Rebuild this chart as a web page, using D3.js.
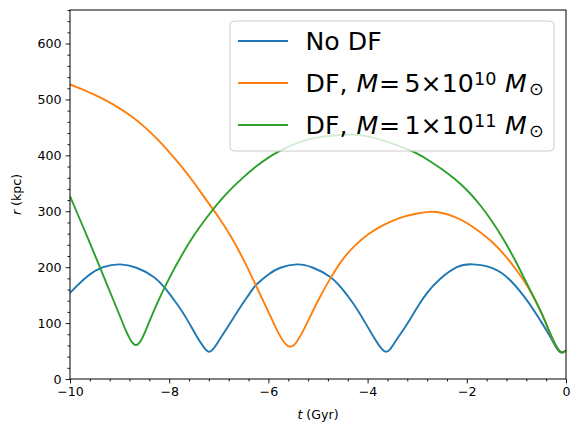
<!DOCTYPE html>
<html>
<head>
<meta charset="utf-8">
<script src="https://cdn.jsdelivr.net/npm/d3@7"></script>
<style>
  body { margin: 0; background: #fff; }
  text { font-family: "DejaVu Sans", sans-serif; }
</style>
</head>
<body>
<script>
// Data (t in Gyr, r in kpc)
const tBlue = [-10, -9.66, -9.33, -8.99, -8.66, -8.32, -8.08, -7.85, -7.65, -7.45, -7.31, -7.21, -7.11, -6.98, -6.77, -6.57, -6.37, -6.24, -6.0, -5.76, -5.43, -5.10, -4.76, -4.52, -4.29, -4.09, -3.89, -3.75, -3.64, -3.54, -3.41, -3.20, -3.00, -2.80, -2.55, -2.20, -1.87, -1.47, -1.13, -0.79, -0.52, -0.32, -0.19, -0.09, 0];
const rBlue = [154, 183, 200, 205, 199, 183, 162, 135, 108, 77, 58, 49, 54, 71, 100, 128, 154, 169, 187, 199, 205, 199, 183, 162, 135, 107, 77, 58, 49, 54, 71, 99, 128, 154, 178, 200, 205, 198, 177, 141, 105, 76, 55, 47, 51];

const tOrange = [-10, -9.75, -9.5, -9.25, -9, -8.75, -8.5, -8.25, -8, -7.75, -7.5, -7.25, -7, -6.75, -6.5, -6.25, -6, -5.9, -5.8, -5.7, -5.62, -5.57, -5.52, -5.45, -5.35, -5.25, -5, -4.75, -4.5, -4.25, -4, -3.75, -3.5, -3.25, -3, -2.75, -2.5, -2.25, -2, -1.75, -1.5, -1.25, -1, -0.75, -0.5, -0.32, -0.19, -0.09, 0];
const rOrange = [527, 518, 508, 497, 484, 469, 451, 430, 406, 380, 351, 320, 289, 254, 213, 167, 120, 101, 83, 68, 60, 58, 59, 64, 78, 95, 140, 180, 214, 239, 258, 272, 283, 291, 296, 299, 297, 290, 279, 264, 246, 223, 195, 162, 119, 81, 57, 48, 51];

const tGreen = [-10, -9.75, -9.5, -9.25, -9, -8.9, -8.8, -8.75, -8.69, -8.62, -8.55, -8.45, -8.25, -8, -7.75, -7.5, -7.25, -7, -6.75, -6.5, -6.25, -6, -5.75, -5.5, -5.25, -5, -4.75, -4.5, -4.25, -4, -3.75, -3.5, -3.25, -3, -2.75, -2.5, -2.25, -2, -1.75, -1.5, -1.25, -1, -0.75, -0.5, -0.32, -0.19, -0.09, 0];
const rGreen = [327, 275, 222, 168, 114, 92, 73, 66, 61, 63, 72, 92, 134, 180, 221, 257, 288, 316, 340, 361, 380, 396, 409, 419, 427, 432, 435, 437, 437, 434, 428, 421, 413, 403, 390, 375, 358, 338, 313, 283, 248, 208, 164, 119, 82, 58, 48, 51];

const xTicks = [-10, -8, -6, -4, -2, 0];
const yTicks = [0, 100, 200, 300, 400, 500, 600];

const width = 580, height = 436;
const mLeft = 70, mRight = 566, mTop = 10, mBottom = 379;

const x = d3.scaleLinear().domain([-10, 0]).range([mLeft, mRight]);
const y = d3.scaleLinear().domain([0, 660]).range([mBottom, mTop]);

const svg = d3.select("body").append("svg")
  .attr("width", width).attr("height", height);

const series = [
  { t: tBlue, r: rBlue, color: "#1f77b4" },
  { t: tOrange, r: rOrange, color: "#ff7f0e" },
  { t: tGreen, r: rGreen, color: "#2ca02c" }
];

svg.append("clipPath").attr("id", "clip")
  .append("rect").attr("x", mLeft).attr("y", mTop)
  .attr("width", mRight - mLeft).attr("height", mBottom - mTop);

const line = d3.line()
  .x(d => x(d[0])).y(d => y(d[1]))
  .curve(d3.curveNatural);

svg.append("g").attr("clip-path", "url(#clip)")
  .selectAll("path")
  .data(series)
  .join("path")
  .attr("d", s => line(s.t.map((t, i) => [t, s.r[i]])))
  .attr("fill", "none")
  .attr("stroke", s => s.color)
  .attr("stroke-width", 1.9)
  .attr("stroke-linejoin", "round")
  .attr("stroke-linecap", "butt");

// minor ticks
const xMinor = d3.range(-10, 0.001, 0.4).filter(v => !xTicks.some(t => Math.abs(t - v) < 1e-6));
const yMinor = d3.range(0, 661, 20).filter(v => v % 100 !== 0);

svg.append("g")
  .attr("transform", "translate(0," + mBottom + ")")
  .call(d3.axisBottom(x).tickValues(xMinor).tickSize(2.5).tickSizeOuter(0).tickFormat(""))
  .call(g => g.select(".domain").remove());

svg.append("g")
  .attr("transform", "translate(" + mLeft + ",0)")
  .call(d3.axisLeft(y).tickValues(yMinor).tickSize(2.5).tickSizeOuter(0).tickFormat(""))
  .call(g => g.select(".domain").remove());

// major ticks
const xAxis = svg.append("g")
  .attr("transform", "translate(0," + mBottom + ")")
  .call(d3.axisBottom(x).tickValues(xTicks).tickSize(4.4).tickPadding(4).tickSizeOuter(0))
  .call(g => g.select(".domain").remove());
xAxis.selectAll("text").attr("font-size", 12.6).attr("fill", "#000").attr("font-family", "DejaVu Sans");

const yAxis = svg.append("g")
  .attr("transform", "translate(" + mLeft + ",0)")
  .call(d3.axisLeft(y).tickValues(yTicks).tickSize(4.4).tickPadding(4).tickSizeOuter(0))
  .call(g => g.select(".domain").remove());
yAxis.selectAll("text").attr("font-size", 12.6).attr("fill", "#000").attr("font-family", "DejaVu Sans");

svg.selectAll("g.tick line").attr("stroke", "#000").attr("stroke-width", 0.9);

// frame
svg.append("rect")
  .attr("x", mLeft).attr("y", mTop)
  .attr("width", mRight - mLeft).attr("height", mBottom - mTop)
  .attr("fill", "none").attr("stroke", "#000").attr("stroke-width", 1);

// axis labels
const xl = svg.append("text")
  .attr("x", (mLeft + mRight) / 2).attr("y", 419)
  .attr("text-anchor", "middle").attr("font-size", 12.6);
xl.append("tspan").attr("font-style", "italic").text("t");
xl.append("tspan").text(" (Gyr)");

const yl = svg.append("text")
  .attr("transform", "translate(21," + ((mTop + mBottom) / 2) + ") rotate(-90)")
  .attr("text-anchor", "middle").attr("font-size", 12.6);
yl.append("tspan").attr("font-style", "italic").text("r");
yl.append("tspan").text(" (kpc)");

// legend
const legend = svg.append("g");
legend.append("rect")
  .attr("x", 230).attr("y", 21).attr("width", 324).attr("height", 130)
  .attr("rx", 4)
  .attr("fill", "#fff").attr("fill-opacity", 0.8)
  .attr("stroke", "#cccccc").attr("stroke-width", 1);

const rowY = [41, 83, 125];
series.forEach((s, i) => {
  legend.append("line")
    .attr("x1", 238).attr("x2", 288)
    .attr("y1", rowY[i]).attr("y2", rowY[i])
    .attr("stroke", s.color).attr("stroke-width", 1.9);
});

const fs = 25.2;
legend.append("text")
  .attr("x", 305.5).attr("y", rowY[0] + 9).attr("font-size", fs)
  .text("No DF");

const massLabels = [["5", "10"], ["1", "11"]];
massLabels.forEach((m, k) => {
  const base = rowY[k + 1] + 9;
  const t = legend.append("text").attr("font-size", fs).attr("fill", "#000");
  t.append("tspan").attr("x", 305.5).attr("y", base).text("DF,");
  t.append("tspan").attr("x", 356.5).attr("y", base).attr("font-style", "italic").text("M");
  t.append("tspan").attr("x", 379).attr("y", base).text("=");
  t.append("tspan").attr("x", 404.5).attr("y", base).text(m[0] + "×10");
  t.append("tspan").attr("x", 474).attr("y", base - 7).attr("font-size", fs * 0.7).text(m[1]);
  t.append("tspan").attr("x", 505).attr("y", base).attr("font-style", "italic").text("M");
  t.append("tspan").attr("x", 529).attr("y", base + 3).attr("font-size", fs * 0.7).text("⊙");
});
</script>
</body>
</html>
